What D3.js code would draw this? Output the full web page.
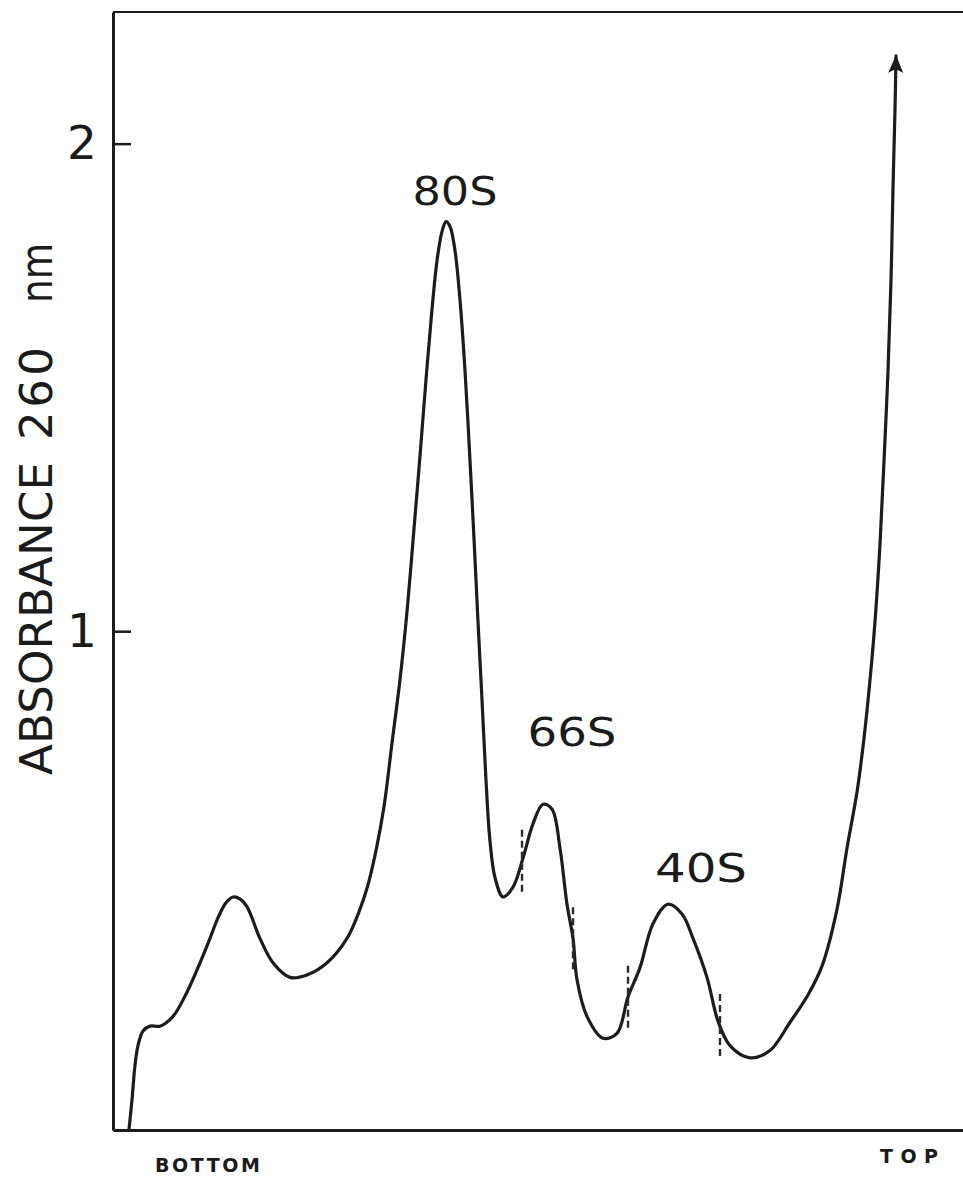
<!DOCTYPE html>
<html>
<head>
<meta charset="utf-8">
<script src="https://cdn.jsdelivr.net/npm/d3@7"></script>
<style>
  html, body { margin: 0; padding: 0; background: #ffffff; }
  svg { display: block; }
  text { font-family: "DejaVu Sans", "Liberation Sans", Arial, sans-serif; fill: #1b1b1b; }
</style>
</head>
<body>
<svg id="chart" width="963" height="1179"></svg>
<script>
// Sucrose gradient profile: absorbance at 260 nm from the bottom to the top of the tube.
const position = [
  1.88, 2.24, 2.59, 2.94, 3.53, 4.35, 5.53, 7.06, 8.71, 10.24, 11.41, 12.35, 13.29, 14.12,
  14.94, 15.76, 17.29, 18.82, 20.82, 22.82, 25.18, 27.53, 29.06, 30.0, 30.94, 31.88, 32.82,
  33.76, 34.59, 35.41, 36.12, 36.82, 37.53, 38.12, 38.71, 39.18, 39.65, 40.24, 40.82,
  41.41, 42.0, 42.47, 42.94, 43.41, 43.88, 44.35, 44.94, 45.88, 47.06, 48.24, 49.41,
  50.59, 51.65, 52.59, 53.41, 54.12, 54.59, 55.76, 57.65, 59.29, 60.59, 62.0, 63.53,
  65.29, 66.94, 68.24, 69.88, 71.18, 72.59, 74.94, 77.29, 79.65, 81.76, 83.41, 85.18,
  86.35, 87.53, 88.35, 89.06, 89.65, 90.24, 90.71, 91.18, 91.53, 91.76, 92.0, 92.12
];
const absorbance = [
  -0.022, 0.04, 0.11, 0.15, 0.18, 0.19, 0.19, 0.21, 0.26, 0.32, 0.37, 0.412, 0.443, 0.455,
  0.451, 0.435, 0.37, 0.32, 0.29, 0.295, 0.32, 0.37, 0.43, 0.48, 0.55, 0.64, 0.77,
  0.90, 1.04, 1.21, 1.36, 1.515, 1.66, 1.76, 1.82, 1.84, 1.83, 1.78, 1.68,
  1.535, 1.35, 1.19, 1.02, 0.86, 0.695, 0.57, 0.495, 0.455, 0.475, 0.535, 0.605,
  0.645, 0.635, 0.555, 0.44, 0.37, 0.285, 0.21, 0.165, 0.175, 0.25, 0.31, 0.40,
  0.44, 0.42, 0.37, 0.29, 0.20, 0.15, 0.125, 0.14, 0.198, 0.254, 0.313, 0.43,
  0.555, 0.67, 0.78, 0.90, 1.02, 1.18, 1.35, 1.535, 1.72, 1.905, 2.07, 2.18
];

// Ribosomal peaks and where they sit along the gradient
const peakNames = ["80S", "66S", "40S"];
const peakPositions = [39.18, 50.59, 65.29];

// Positions of the collected-fraction cuts
const fractionCuts = [48.12, 54.12, 60.59, 71.41];

// Absorbance tick labels
const yTicks = [1, 2];
const yTickLabels = ["1", "2"];

// Gradient ends
const endLabels = ["BOTTOM", "TOP"];

const svg = d3.select("#chart");

const x = d3.scaleLinear().domain([0, 100]).range([113, 963]);
const y = d3.scaleLinear().domain([-0.023, 2.27]).range([1130, 12]);

const points = position.map((p, i) => ({ p, a: absorbance[i] }));
const bis = d3.bisector(d => d.p).left;
function valueAt(p) {
  const i = Math.max(1, Math.min(points.length - 1, bis(points, p)));
  const a = points[i - 1], b = points[i];
  const t = (p - a.p) / (b.p - a.p);
  return a.a + t * (b.a - a.a);
}

const ink = "#1c1c1c";

// Frame top
svg.append("line")
  .attr("x1", x(0)).attr("x2", x(100))
  .attr("y1", y(2.27)).attr("y2", y(2.27))
  .attr("stroke", ink).attr("stroke-width", 2);

// Absorbance axis
const yAxis = svg.append("g")
  .attr("transform", `translate(${x(0)},0)`)
  .call(d3.axisLeft(y)
    .tickValues(yTicks)
    .tickFormat((d, i) => yTickLabels[i])
    .tickSize(-18)
    .tickPadding(16)
    .tickSizeOuter(0));
yAxis.select(".domain").attr("stroke", ink).attr("stroke-width", 3);
yAxis.selectAll(".tick line").attr("stroke", ink).attr("stroke-width", 2.5);
yAxis.selectAll(".tick text")
  .attr("font-size", 47)
  .attr("font-family", "DejaVu Sans, Liberation Sans, Arial, sans-serif")
  .attr("fill", ink);

// Gradient axis
const xAxis = svg.append("g")
  .attr("transform", `translate(0,${y(-0.023)})`)
  .call(d3.axisBottom(x).tickValues([]).tickSizeOuter(0));
xAxis.select(".domain").attr("stroke", ink).attr("stroke-width", 3);

// Arrowhead showing the trace runs off scale
const defs = svg.append("defs");
defs.append("marker")
  .attr("id", "arrow")
  .attr("markerUnits", "userSpaceOnUse")
  .attr("viewBox", "-20 -10 22 20")
  .attr("refX", 0).attr("refY", 0)
  .attr("markerWidth", 22).attr("markerHeight", 20)
  .attr("orient", "auto")
  .append("path")
  .attr("d", "M1,0 L-17,-7.5 L-13,0 L-17,7.5 Z")
  .attr("fill", ink);

// Absorbance trace
const line = d3.line()
  .x(d => x(d.p))
  .y(d => y(d.a))
  .curve(d3.curveCatmullRom.alpha(0.5));

svg.append("path")
  .datum(points)
  .attr("d", line)
  .attr("fill", "none")
  .attr("stroke", ink)
  .attr("stroke-width", 3.2)
  .attr("stroke-linejoin", "round")
  .attr("stroke-linecap", "round")
  .attr("marker-end", "url(#arrow)");

// Fraction cuts across the trace
const cutHalf = 0.064;
svg.append("g").selectAll("line")
  .data(fractionCuts)
  .join("line")
  .attr("x1", d => x(d)).attr("x2", d => x(d))
  .attr("y1", d => y(valueAt(d) + cutHalf))
  .attr("y2", d => y(valueAt(d) - cutHalf))
  .attr("stroke", "#2a2a2a")
  .attr("stroke-width", 2.4)
  .attr("stroke-dasharray", "7 4");

// Peak labels, placed relative to each peak maximum
const peakLabelPlacement = {
  "80S": { dx: 9, dy: -17, w: 85 },
  "66S": { dx: 29, dy: -58, w: 89 },
  "40S": { dx: 33, dy: -22, w: 92 }
};
svg.append("g").selectAll("text")
  .data(peakNames.map((n, i) => ({ n, p: peakPositions[i] })))
  .join("text")
  .attr("x", d => x(d.p) + peakLabelPlacement[d.n].dx)
  .attr("y", d => y(valueAt(d.p)) + peakLabelPlacement[d.n].dy)
  .attr("text-anchor", "middle")
  .attr("font-size", 39)
  .attr("textLength", d => peakLabelPlacement[d.n].w)
  .attr("lengthAdjust", "spacingAndGlyphs")
  .text(d => d.n);

// Axis title, rotated
const titleX = 52;
svg.append("text")
  .attr("transform", `translate(${titleX},775) rotate(-90)`)
  .attr("font-size", 45)
  .attr("textLength", 313)
  .attr("lengthAdjust", "spacing")
  .text("ABSORBANCE");
svg.append("text")
  .attr("transform", `translate(${titleX},440) rotate(-90)`)
  .attr("font-size", 45)
  .attr("textLength", 93)
  .attr("lengthAdjust", "spacing")
  .text("260");
svg.append("text")
  .attr("transform", `translate(${titleX},303) rotate(-90)`)
  .attr("font-size", 45)
  .attr("textLength", 60)
  .attr("lengthAdjust", "spacingAndGlyphs")
  .text("nm");

// Gradient end labels
svg.append("text")
  .attr("x", x(4.94)).attr("y", 1172)
  .attr("font-size", 19).attr("font-weight", "bold")
  .attr("textLength", 105).attr("lengthAdjust", "spacing")
  .text(endLabels[0]);
svg.append("text")
  .attr("x", x(90.24)).attr("y", 1163)
  .attr("font-size", 19).attr("font-weight", "bold")
  .attr("textLength", 58).attr("lengthAdjust", "spacing")
  .text(endLabels[1]);
</script>
</body>
</html>
